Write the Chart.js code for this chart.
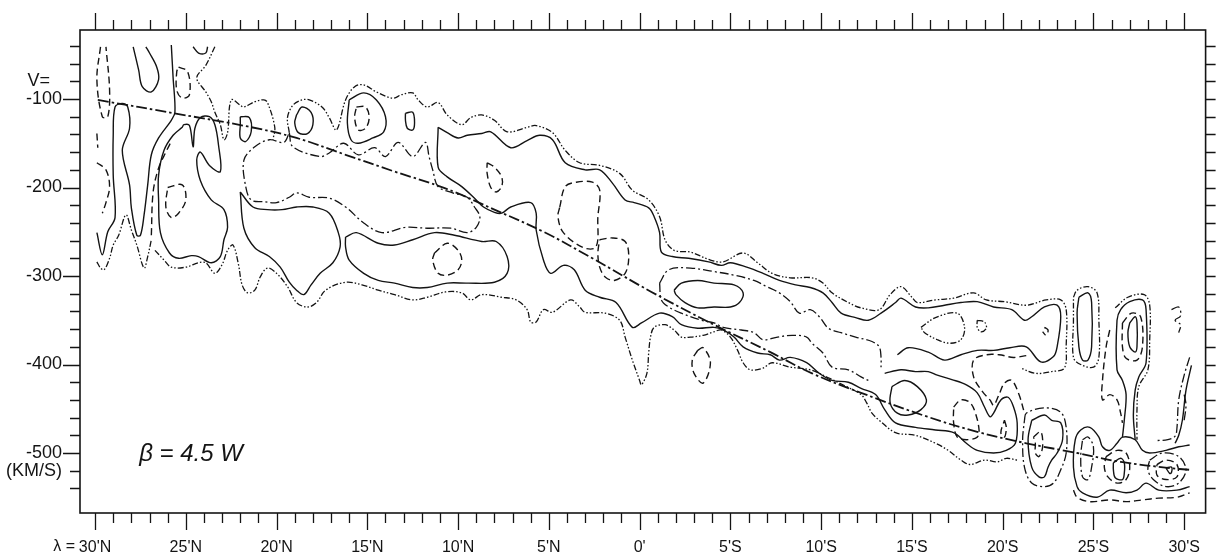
<!DOCTYPE html>
<html>
<head>
<meta charset="utf-8">
<title>beta = 4.5 W</title>
<script src="https://cdn.jsdelivr.net/npm/chart.js@4.4.1/dist/chart.umd.min.js"></script>
<style>
  html, body { margin: 0; padding: 0; background: #fff; }
  #wrap { width: 1225px; height: 559px; position: relative; }
</style>
</head>
<body>
<div id="wrap"><canvas id="chart"></canvas></div>
<script>
// axis labels: latitude in degrees (north positive), velocity in km/s
const latTicks = [30, 25, 20, 15, 10, 5, 0, -5, -10, -15, -20, -25, -30];
const latLabels = ["30'N", "25'N", "20'N", "15'N", "10'N", "5'N", "0'", "5'S", "10'S", "15'S", "20'S", "25'S", "30'S"];
const velTicks = [-100, -200, -300, -400, -500];

// ridge (dash-dot curve), [lat, v]
const ridgeLine = [[29.85,-101],[25.4,-117],[21.6,-131],[18.9,-144],[16.2,-163],[13.5,-182],[10.7,-201],[8.0,-225],[5.3,-250],[2.6,-280],[-0.65,-318],[-3.9,-353],[-7.2,-386],[-9.5,-410],[-12.2,-432],[-15.85,-459],[-18.6,-476],[-21.3,-489],[-24.1,-500],[-26.5,-510],[-29.2,-517],[-30.3,-519]];

// solid contours
const solidContours = [
  [[29.9,-251],[29.6,-276],[29.3,-250],[28.9,-234],[29.0,-186],[29.0,-141],[28.9,-109],[28.5,-105],[28.2,-109],[28.1,-133],[28.5,-158],[28.1,-197],[28.0,-223],[27.7,-254],[27.5,-254],[27.3,-231],[27.1,-197],[26.9,-163],[26.5,-144],[25.8,-124],[25.6,-115],[25.7,-76],[25.8,-39]],
  [[27.9,-41],[27.6,-67],[27.4,-86],[26.9,-92],[26.5,-78],[26.6,-64],[27.0,-48],[27.2,-41]],
  [[24.6,-41],[24.3,-48],[23.9,-48],[23.8,-41]],
  [[25.2,-132],[25.7,-141],[26.2,-158],[26.5,-186],[26.5,-214],[26.4,-251],[25.9,-274],[25.4,-280],[24.7,-277],[24.3,-278],[23.6,-285],[23.1,-278],[22.9,-259],[22.7,-245],[22.9,-225],[23.6,-214],[24.2,-192],[24.4,-169],[24.2,-160],[23.7,-175],[23.1,-182],[23.2,-152],[23.4,-129],[23.7,-120],[24.2,-121],[24.5,-133],[24.6,-154],[24.8,-130],[25.1,-129],[25.2,-132]],
  [[22.0,-120],[21.5,-121],[21.4,-137],[21.7,-148],[22.0,-144],[22.0,-129],[22.0,-120]],
  [[18.9,-118],[18.6,-109],[18.1,-115],[18.0,-129],[18.3,-139],[18.8,-138],[19.0,-127],[18.9,-118]],
  [[16.0,-101],[15.2,-93],[14.5,-101],[14.0,-120],[14.1,-137],[14.7,-144],[15.5,-150],[15.9,-146],[16.1,-127],[16.0,-101]],
  [[12.9,-116],[12.5,-115],[12.4,-127],[12.5,-135],[12.8,-133],[12.9,-124],[12.9,-116]],
  [[22.0,-205],[21.3,-222],[20.5,-225],[19.7,-225],[18.9,-222],[18.0,-222],[17.1,-229],[16.6,-251],[16.5,-267],[16.9,-285],[17.6,-297],[18.1,-310],[18.5,-321],[18.9,-316],[19.3,-307],[19.8,-290],[20.4,-278],[21.2,-268],[21.8,-246],[22.0,-205]],
  [[16.2,-256],[15.6,-251],[14.4,-263],[13.5,-265],[12.5,-259],[11.3,-251],[10.2,-254],[8.7,-261],[7.9,-261],[7.3,-278],[7.3,-297],[8.0,-307],[9.5,-308],[10.6,-308],[11.7,-313],[12.5,-313],[13.5,-308],[14.4,-305],[15.2,-297],[16.0,-282],[16.2,-267],[16.2,-256]],
  // upper edge of the main band
  [[11.1,-132],[10.6,-138],[10.0,-144],[9.5,-141],[8.7,-139],[8.2,-137],[7.1,-155],[6.2,-147],[5.5,-141],[4.8,-146],[4.1,-172],[3.0,-180],[2.2,-180],[1.5,-195],[0.8,-214],[0.3,-217],[-0.5,-223],[-0.8,-233],[-1.1,-251],[-1.2,-273],[-1.8,-278],[-2.7,-280],[-3.8,-284],[-4.5,-288],[-5.0,-285],[-5.9,-290],[-6.8,-297],[-7.7,-305],[-8.6,-310],[-9.4,-313],[-10.1,-319],[-10.6,-330],[-11.1,-342],[-11.9,-347],[-12.6,-350],[-13.3,-342],[-14.1,-330],[-14.4,-325],[-15.2,-335],[-15.9,-336],[-16.8,-333],[-17.7,-330],[-18.6,-329],[-19.5,-335],[-20.5,-338],[-21.2,-350],[-21.6,-346],[-22.3,-335],[-23.0,-333],[-23.2,-346],[-23.0,-380],[-22.8,-391],[-22.1,-397],[-21.3,-380],[-20.4,-381],[-19.5,-384],[-18.6,-384],[-17.7,-389],[-16.8,-395],[-15.9,-386],[-14.8,-381],[-14.2,-389]],
  // lower edge of the main band
  [[11.1,-132],[11.1,-177],[10.6,-188],[9.8,-199],[9.0,-214],[8.6,-222],[8.0,-228],[7.6,-229],[7.1,-222],[6.0,-217],[5.7,-229],[5.7,-248],[5.3,-282],[4.9,-297],[4.2,-288],[3.6,-293],[3.0,-316],[2.2,-324],[1.3,-330],[0.4,-358],[-0.1,-353],[-1.1,-342],[-1.8,-346],[-2.3,-355],[-3.2,-359],[-4.1,-358],[-4.6,-361],[-5.2,-369],[-5.7,-380],[-6.5,-387],[-7.2,-389],[-7.7,-395],[-8.3,-392],[-9.2,-398],[-9.9,-410],[-10.6,-418],[-11.5,-420],[-12.2,-427],[-13.0,-434],[-13.5,-451],[-14.1,-466],[-15.2,-471],[-16.3,-474],[-17.3,-477],[-18.0,-489],[-18.6,-497],[-19.5,-500],[-20.2,-497],[-20.7,-489],[-20.8,-466],[-20.6,-448],[-20.3,-437],[-19.9,-440],[-19.5,-455],[-19.3,-459],[-19.0,-448],[-18.6,-432],[-18.0,-423],[-17.2,-417],[-16.4,-412],[-15.9,-408],[-15.2,-408],[-14.4,-406],[-13.5,-410]],
  [[-1.9,-316],[-2.3,-308],[-3.2,-305],[-4.1,-308],[-5.2,-310],[-5.7,-319],[-5.5,-330],[-5.0,-335],[-4.1,-335],[-3.2,-336],[-2.5,-330],[-2.0,-321],[-1.9,-316]],
  [[-13.9,-425],[-14.6,-418],[-15.3,-425],[-15.8,-440],[-15.5,-451],[-14.8,-457],[-14.2,-455],[-13.8,-443],[-13.9,-425]],
  [[-21.6,-463],[-22.3,-457],[-22.7,-463],[-23.2,-466],[-23.3,-485],[-23.0,-500],[-22.7,-508],[-22.5,-516],[-22.3,-527],[-22.0,-527],[-21.6,-516],[-21.4,-485],[-21.6,-463]],
  [[-24.2,-324],[-24.7,-319],[-24.9,-330],[-24.9,-380],[-24.7,-395],[-24.4,-395],[-24.2,-380],[-24.1,-342],[-24.2,-324]],
  [[-26.6,-482],[-26.7,-463],[-26.8,-434],[-26.6,-418],[-26.3,-406],[-26.3,-350],[-26.5,-338],[-27.0,-329],[-27.7,-327],[-27.9,-338],[-27.9,-398],[-27.5,-414],[-27.3,-429],[-27.2,-457],[-27.3,-485]],
  [[-27.0,-353],[-27.3,-346],[-27.4,-353],[-27.4,-380],[-27.3,-386],[-27.0,-380],[-26.9,-364],[-27.0,-353]],
  [[-30.3,-491],[-29.7,-493],[-29.0,-497],[-28.1,-500],[-27.7,-497],[-27.3,-485],[-26.6,-482],[-26.3,-489],[-25.9,-497],[-25.5,-493],[-25.3,-482],[-24.8,-471],[-24.3,-474],[-24.0,-485],[-23.9,-516],[-24.1,-538],[-24.4,-545],[-25.2,-550],[-25.9,-542],[-26.8,-545],[-27.4,-542],[-27.9,-534],[-28.6,-542],[-29.6,-542],[-30.3,-538]],
  [[-26.1,-511],[-26.5,-506],[-26.7,-511],[-26.7,-523],[-26.6,-530],[-26.2,-528],[-26.1,-519],[-26.1,-511]],
  [[-29.0,-517],[-29.3,-516],[-29.3,-522],[-29.2,-523],[-29.0,-517]],
  [[-30.4,-401],[-30.1,-429],[-29.9,-463],[-29.7,-480],[-29.5,-489]]
];

// long-dash contours
const dashedContours = [
  [[29.7,-41],[29.9,-78],[29.6,-120],[29.3,-120],[29.2,-90],[29.4,-41]],
  [[29.9,-172],[29.4,-180],[29.2,-199],[29.4,-217],[29.6,-229]],
  [[29.9,-139],[29.85,-155]],
  [[25.4,-64],[24.9,-69],[24.8,-95],[25.2,-99],[25.5,-90],[25.5,-69],[25.4,-64]],
  [[26.9,-254],[26.8,-205],[26.5,-178],[26.1,-160],[25.8,-148]],
  [[26.0,-200],[25.2,-197],[25.0,-214],[25.4,-229],[25.8,-234],[26.1,-222],[26.0,-200]],
  [[15.6,-109],[15.1,-109],[14.9,-121],[15.1,-133],[15.5,-135],[15.7,-121],[15.6,-109]],
  [[8.4,-172],[8.0,-177],[7.6,-188],[7.6,-199],[7.9,-205],[8.2,-200],[8.4,-184],[8.4,-172]],
  [[4.4,-222],[4.1,-199],[3.5,-194],[2.6,-194],[2.2,-203],[2.3,-233],[2.4,-267],[3.1,-268],[4.2,-251],[4.5,-233],[4.4,-222]],
  [[2.2,-259],[1.5,-257],[0.8,-261],[0.6,-278],[0.8,-297],[1.4,-305],[1.9,-301],[2.2,-290],[2.3,-274],[2.2,-259]],
  [[11.3,-274],[10.6,-263],[10.0,-271],[9.8,-282],[10.0,-293],[10.6,-299],[11.1,-297],[11.4,-282],[11.3,-274]],
  [[-3.2,-384],[-3.5,-381],[-3.9,-398],[-3.5,-421],[-3.0,-410],[-2.9,-395],[-3.2,-384]],
  [[-17.3,-448],[-17.7,-440],[-18.2,-443],[-18.5,-455],[-18.7,-474],[-18.6,-482],[-18.0,-485],[-17.5,-482],[-17.3,-466],[-17.3,-448]],
  [[-20.1,-463],[-20.2,-471],[-20.1,-482],[-19.9,-477],[-20.1,-463]],
  [[-21.3,-390],[-20.6,-392],[-19.8,-389],[-19.1,-389],[-18.4,-395],[-18.4,-414],[-18.9,-431],[-19.3,-440],[-19.5,-446],[-19.8,-434],[-20.1,-421],[-20.5,-418],[-20.9,-434],[-21.2,-455]],
  [[-21.7,-482],[-22.1,-476],[-22.2,-493],[-22.0,-504],[-21.8,-500],[-21.8,-489],[-21.7,-482]],
  [[-22.3,-358],[-22.5,-361],[-22.4,-367],[-22.2,-363]],
  [[-26.6,-353],[-27.1,-342],[-27.6,-346],[-27.7,-380],[-27.4,-395],[-26.8,-393],[-26.6,-380],[-26.6,-353]],
  [[-25.9,-361],[-25.7,-380],[-25.5,-418],[-25.5,-440],[-25.9,-434],[-26.3,-440],[-26.5,-455],[-26.6,-466]],
  [[-25.7,-504],[-26.3,-497],[-26.8,-500],[-27.0,-516],[-26.8,-530],[-26.3,-534],[-25.8,-527],[-25.6,-516],[-25.7,-504]],
  [[-28.5,-513],[-29.0,-508],[-29.6,-513],[-29.6,-527],[-29.0,-530],[-28.5,-525],[-28.5,-513]],
  [[-23.9,-542],[-24.1,-550],[-24.8,-555],[-25.9,-553],[-26.8,-555],[-27.7,-553],[-28.6,-551],[-29.6,-550],[-30.3,-545]]
];

// dash-dot contours
const dashDotContours = [
  [[19.3,-138],[19.1,-154],[17.6,-165],[17.1,-161],[16.3,-150],[15.5,-163],[14.6,-155],[14.0,-165],[13.3,-149],[12.5,-165],[11.8,-149],[11.6,-165],[11.4,-180],[11.1,-199],[10.3,-206],[9.5,-211],[9.1,-222],[8.8,-233],[9.0,-245],[9.5,-251],[10.4,-246],[11.7,-246],[12.9,-245],[14.2,-251],[15.2,-240],[16.2,-222],[17.1,-212],[18.2,-211],[18.9,-206],[19.3,-211],[20.0,-217],[20.7,-216],[21.4,-214],[21.7,-199],[21.8,-169],[21.2,-154],[20.4,-146],[19.6,-149],[19.3,-138]],
  [[-1.1,-308],[-1.6,-293],[-2.8,-291],[-4.1,-295],[-5.2,-299],[-6.3,-305],[-7.0,-312],[-7.7,-319],[-8.3,-329],[-8.8,-342],[-9.4,-338],[-9.9,-346],[-10.4,-359],[-11.1,-364],[-11.9,-369],[-12.8,-374],[-13.2,-380],[-13.3,-392],[-13.3,-403]],
  [[-1.1,-308],[-1.2,-327],[-1.6,-335],[-2.3,-342],[-3.4,-350],[-4.1,-353],[-4.6,-358],[-5.6,-361],[-6.3,-364],[-6.8,-372],[-7.6,-369],[-8.4,-367],[-9.2,-369],[-9.5,-376],[-10.1,-387],[-10.6,-403],[-11.5,-406],[-12.2,-414],[-12.6,-418]],
  [[-24.4,-485],[-24.7,-482],[-25.0,-493],[-24.9,-516],[-24.7,-530],[-24.4,-527],[-24.3,-504],[-24.4,-485]],
  [[-28.1,-508],[-28.8,-500],[-29.7,-504],[-30.1,-519],[-29.7,-534],[-29.0,-538],[-28.3,-530],[-28.0,-519],[-28.1,-508]],
  [[-21.2,-463],[-21.3,-455],[-22.3,-449],[-23.2,-454],[-23.5,-471],[-23.5,-500],[-23.2,-519],[-22.8,-534],[-22.3,-538],[-21.6,-534],[-21.2,-516],[-21.1,-485],[-21.2,-463]],
  [[-30.3,-392],[-30.0,-412],[-29.7,-440],[-29.6,-472],[-29.5,-481],[-29.1,-485],[-28.4,-486]],
  [[-29.3,-338],[-29.7,-335],[-29.8,-345],[-29.5,-350],[-29.8,-355],[-29.7,-364]],
  [[-30.0,-434],[-30.1,-446],[-30.0,-463]]
];

// dash-dot-dot contours (outermost level)
const dashDotDotContours = [
  [[23.4,-41],[23.9,-62],[24.4,-76],[23.9,-92],[23.6,-103],[23.4,-115],[23.1,-129],[22.9,-146],[22.7,-138],[22.5,-101],[22.0,-107],[21.8,-109],[21.2,-103],[20.7,-101],[20.5,-104],[20.1,-132],[20.2,-146]],
  [[29.9,-284],[29.7,-291],[29.5,-293],[29.2,-280],[29.0,-265],[28.7,-254],[28.3,-231],[28.0,-248],[27.7,-265],[27.3,-291],[27.1,-278],[26.9,-259]],
  // lower outer edge
  [[26.7,-271],[26.2,-282],[25.8,-290],[25.0,-290],[24.3,-285],[23.9,-285],[23.4,-297],[23.0,-287],[22.7,-271],[22.4,-265],[22.1,-287],[21.9,-310],[21.6,-319],[21.2,-316],[20.9,-301],[20.5,-291],[20.0,-297],[19.4,-312],[18.9,-330],[18.3,-335],[17.8,-330],[17.3,-316],[16.2,-307],[15.3,-310],[14.4,-316],[13.5,-321],[12.5,-327],[11.7,-324],[10.7,-318],[9.8,-319],[9.3,-327],[8.7,-321],[7.6,-324],[6.8,-327],[6.2,-338],[6.0,-352],[5.7,-352],[5.3,-338],[4.8,-341],[3.8,-327],[3.3,-335],[3.0,-341],[1.9,-342],[1.1,-350],[0.8,-369],[0.4,-395],[0.0,-418],[-0.1,-423],[-0.4,-410],[-0.5,-387],[-0.6,-369],[-0.8,-358],[-1.4,-355],[-1.9,-361],[-2.3,-369],[-2.8,-369],[-3.5,-367],[-4.1,-363],[-4.5,-361],[-5.0,-369],[-5.4,-384],[-5.7,-398],[-6.1,-406],[-6.8,-404],[-7.3,-398],[-8.3,-403],[-9.4,-406],[-10.4,-415],[-11.4,-425],[-12.2,-434],[-12.5,-443],[-12.8,-455],[-13.2,-463],[-14.1,-477],[-15.2,-480],[-16.3,-489],[-17.0,-497],[-17.7,-508],[-18.2,-513],[-19.0,-508],[-19.7,-510],[-20.2,-506],[-20.8,-508]],
  // upper outer edge
  [[19.3,-138],[19.4,-121],[19.1,-107],[18.6,-101],[18.2,-101],[17.5,-109],[17.1,-121],[16.7,-135],[16.2,-101],[15.7,-86],[15.2,-84],[14.5,-92],[13.6,-99],[13.1,-95],[12.5,-93],[12.2,-101],[11.7,-109],[11.1,-104],[10.6,-118],[9.8,-129],[9.3,-121],[8.7,-118],[8.0,-124],[7.3,-137],[6.2,-132],[5.7,-130],[4.8,-138],[4.1,-158],[3.3,-172],[2.2,-175],[1.1,-184],[0.4,-203],[-0.5,-214],[-1.1,-233],[-1.4,-259],[-1.9,-271],[-2.8,-273],[-3.9,-282],[-4.6,-284],[-5.7,-274],[-6.5,-285],[-7.3,-297],[-8.3,-302],[-9.5,-302],[-10.1,-308],[-10.6,-319],[-11.5,-330],[-12.2,-336],[-13.2,-338],[-13.8,-321],[-14.4,-312],[-15.0,-324],[-15.3,-330],[-16.3,-327],[-17.3,-325],[-18.4,-319],[-19.1,-327],[-20.1,-329],[-21.3,-333],[-22.4,-327],[-23.2,-327],[-23.5,-338],[-23.5,-378],[-23.4,-404],[-22.7,-408],[-21.8,-410],[-21.0,-404]],
  [[-15.5,-358],[-16.3,-347],[-17.5,-342],[-17.9,-358],[-17.7,-372],[-17.1,-376],[-16.4,-372],[-15.7,-364],[-15.5,-358]],
  [[-18.6,-350],[-19.0,-352],[-19.1,-359],[-18.8,-363],[-18.6,-358],[-18.6,-350]],
  [[-23.9,-324],[-24.1,-316],[-24.7,-312],[-25.2,-319],[-25.3,-350],[-25.3,-392],[-25.0,-403],[-24.3,-400],[-23.9,-392],[-23.9,-350],[-23.9,-324]],
  [[-26.2,-336],[-26.9,-324],[-27.8,-321],[-28.1,-333],[-28.1,-372],[-28.0,-406],[-27.5,-425],[-27.4,-451],[-27.4,-485]]
];

const INK = '#141414';
const dashSolid = [];
const dashLong = [7, 4];
const dashDot = [9, 3, 2, 3];
const dashDotDot = [6, 2, 1.5, 2, 1.5, 2];

function contourDatasets(paths, dash, width, tension) {
  return paths.map(path => ({
    data: path.map(([lat, v]) => ({ x: lat, y: v })),
    showLine: true,
    borderColor: INK,
    borderWidth: width,
    borderDash: dash,
    pointRadius: 0,
    pointHoverRadius: 0,
    tension: tension,
    fill: false
  }));
}

const datasets = [
  ...contourDatasets(solidContours, dashSolid, 1.4, 0.35),
  ...contourDatasets(dashedContours, dashLong, 1.4, 0.35),
  ...contourDatasets(dashDotContours, dashDot, 1.3, 0.35),
  ...contourDatasets(dashDotDotContours, dashDotDot, 1.3, 0.35),
  ...contourDatasets([ridgeLine], [11, 3, 2.5, 3], 1.8, 0.4)
];

// frame, tick marks on all four sides and the free-standing labels
const frameTicks = {
  id: 'frameTicks',
  afterDatasetsDraw(chart) {
    const { ctx, chartArea: a, scales: { x, y } } = chart;
    ctx.save();
    ctx.strokeStyle = INK;
    ctx.setLineDash([]);
    ctx.lineWidth = 1.6;
    ctx.strokeRect(a.left, a.top, a.right - a.left, a.bottom - a.top);

    ctx.lineWidth = 1.3;
    ctx.beginPath();
    for (let lat = 30; lat >= -30; lat--) {
      const px = Math.round(x.getPixelForValue(lat)) + 0.5;
      const len = lat % 5 === 0 ? 17 : 10;
      ctx.moveTo(px, a.top); ctx.lineTo(px, a.top - len);
      ctx.moveTo(px, a.bottom); ctx.lineTo(px, a.bottom + len);
    }
    for (let v = -40; v >= -540; v -= 20) {
      const py = Math.round(y.getPixelForValue(v)) + 0.5;
      const len = v % 100 === 0 ? 17 : 10;
      ctx.moveTo(a.left, py); ctx.lineTo(a.left - len, py);
      ctx.moveTo(a.right, py); ctx.lineTo(a.right + 10, py);
    }
    ctx.stroke();

    ctx.fillStyle = INK;
    ctx.font = '18px "Liberation Sans"';
    ctx.textAlign = 'right';
    ctx.textBaseline = 'middle';
    ctx.fillText('V=', 50, y.getPixelForValue(-80));

    ctx.font = '16px "Liberation Sans"';
    ctx.fillText('\u03bb =', x.getPixelForValue(30) - 20, 547);

    ctx.font = 'italic 24px "Liberation Sans"';
    ctx.textAlign = 'left';
    ctx.textBaseline = 'alphabetic';
    ctx.fillText('\u03b2 = 4.5 W', x.getPixelForValue(27.57), y.getPixelForValue(-509));
    ctx.restore();
  }
};

new Chart(document.getElementById('chart'), {
  type: 'scatter',
  data: { datasets },
  options: {
    responsive: true,
    maintainAspectRatio: false,
    devicePixelRatio: 1,
    animation: false,
    events: [],
    layout: { padding: { top: 30, right: 3, left: 0, bottom: 0 } },
    plugins: { legend: { display: false }, tooltip: { enabled: false } },
    scales: {
      x: {
        type: 'linear',
        position: 'bottom',
        reverse: true,
        min: -31.18,
        max: 30.83,
        grid: { display: false, drawTicks: false },
        border: { display: false },
        afterFit(scale) { scale.height = 46; },
        ticks: {
          stepSize: 5,
          includeBounds: false,
          autoSkip: false,
          maxRotation: 0,
          padding: 25,
          color: INK,
          font: { family: 'Liberation Sans', size: 16 },
          callback(value) {
            const i = latTicks.indexOf(Math.round(value));
            return i >= 0 ? latLabels[i] : '';
          }
        }
      },
      y: {
        type: 'linear',
        min: -567.8,
        max: -22,
        grid: { display: false, drawTicks: false },
        border: { display: false },
        afterFit(scale) { scale.width = 80; },
        ticks: {
          stepSize: 20,
          includeBounds: false,
          autoSkip: false,
          padding: 18,
          color: INK,
          font: { family: 'Liberation Sans', size: 18 },
          callback(value) {
            const v = Math.round(value);
            if (velTicks.includes(v)) return String(v);
            if (v === -520) return '(KM/S)';
            return '';
          }
        }
      }
    }
  },
  plugins: [frameTicks]
});
</script>
</body>
</html>
